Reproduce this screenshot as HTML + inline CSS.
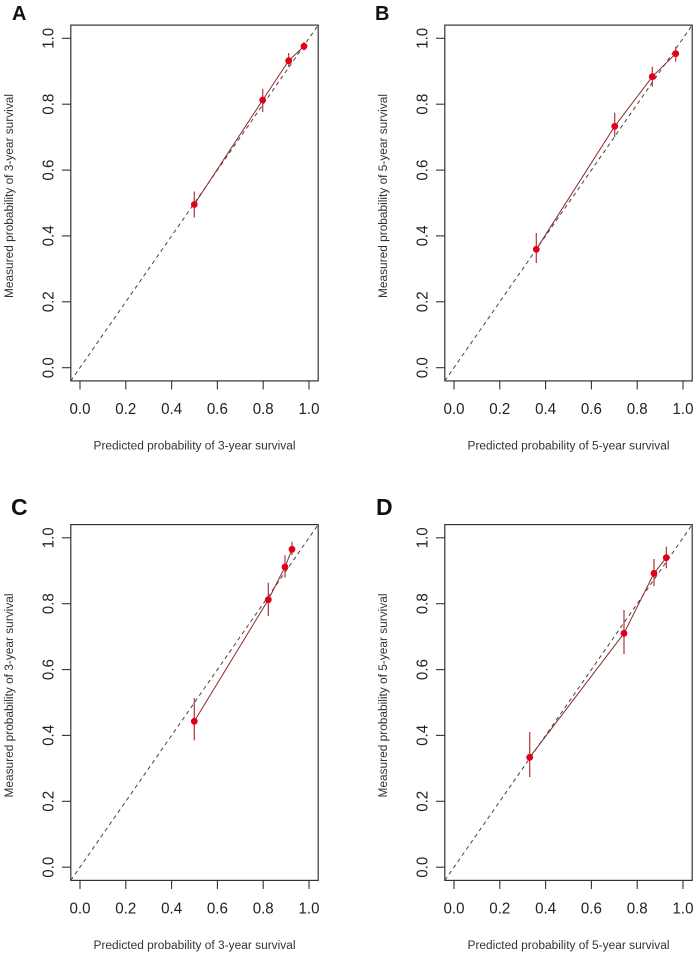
<!DOCTYPE html>
<html><head><meta charset="utf-8"><style>
html,body{margin:0;padding:0;background:#fff;}
svg{display:block;}
text{font-family:"Liberation Sans",Arial,sans-serif;fill:#222;}
.tk{font-size:16px;}
.ttl{font-size:11.5px;fill:#333;}
.lt{font-size:20px;font-weight:bold;fill:#111;}
.box{fill:none;stroke:#333;stroke-width:1.2;}
.tick{stroke:#333;stroke-width:1.1;}
.diag{stroke:#444;stroke-width:1;stroke-dasharray:4 3.5;fill:none;}
.cal{stroke:#8b2a2a;stroke-width:1;fill:none;}
.err{stroke:#b03535;stroke-width:1.2;}
.pt{fill:#e0001a;}
</style></head><body>
<svg width="696" height="956" viewBox="0 0 696 956" xmlns="http://www.w3.org/2000/svg">
<defs>
<g id="axes">
  <rect class="box" x="70.8" y="25.1" width="247.4" height="355.8"/>
  <line class="diag" x1="70.8" y1="380.9" x2="318.2" y2="25.1"/>
  <g class="tick">
    <line x1="80" y1="380.9" x2="80" y2="389.5"/>
    <line x1="125.8" y1="380.9" x2="125.8" y2="389.5"/>
    <line x1="171.6" y1="380.9" x2="171.6" y2="389.5"/>
    <line x1="217.4" y1="380.9" x2="217.4" y2="389.5"/>
    <line x1="263.2" y1="380.9" x2="263.2" y2="389.5"/>
    <line x1="309" y1="380.9" x2="309" y2="389.5"/>
    <line x1="70.8" y1="367.7" x2="62" y2="367.7"/>
    <line x1="70.8" y1="301.8" x2="62" y2="301.8"/>
    <line x1="70.8" y1="235.9" x2="62" y2="235.9"/>
    <line x1="70.8" y1="170.1" x2="62" y2="170.1"/>
    <line x1="70.8" y1="104.2" x2="62" y2="104.2"/>
    <line x1="70.8" y1="38.3" x2="62" y2="38.3"/>
  </g>
  <g class="tk" text-anchor="middle">
    <text x="80" y="414" textLength="21" lengthAdjust="spacingAndGlyphs">0.0</text>
    <text x="125.8" y="414" textLength="21" lengthAdjust="spacingAndGlyphs">0.2</text>
    <text x="171.6" y="414" textLength="21" lengthAdjust="spacingAndGlyphs">0.4</text>
    <text x="217.4" y="414" textLength="21" lengthAdjust="spacingAndGlyphs">0.6</text>
    <text x="263.2" y="414" textLength="21" lengthAdjust="spacingAndGlyphs">0.8</text>
    <text x="309" y="414" textLength="21" lengthAdjust="spacingAndGlyphs">1.0</text>
    <text transform="translate(53.5,367.7) rotate(-90)" textLength="21" lengthAdjust="spacingAndGlyphs">0.0</text>
    <text transform="translate(53.5,301.8) rotate(-90)" textLength="21" lengthAdjust="spacingAndGlyphs">0.2</text>
    <text transform="translate(53.5,235.9) rotate(-90)" textLength="21" lengthAdjust="spacingAndGlyphs">0.4</text>
    <text transform="translate(53.5,170.1) rotate(-90)" textLength="21" lengthAdjust="spacingAndGlyphs">0.6</text>
    <text transform="translate(53.5,104.2) rotate(-90)" textLength="21" lengthAdjust="spacingAndGlyphs">0.8</text>
    <text transform="translate(53.5,38.3) rotate(-90)" textLength="21" lengthAdjust="spacingAndGlyphs">1.0</text>
  </g>
</g>
</defs>

<!-- Panel A -->
<g>
  <use href="#axes"/>
  <text class="ttl" x="194.5" y="449.5" text-anchor="middle" textLength="202" lengthAdjust="spacingAndGlyphs">Predicted probability of 3-year survival</text>
  <text class="ttl" transform="translate(13,196) rotate(-90)" text-anchor="middle" textLength="204" lengthAdjust="spacingAndGlyphs">Measured probability of 3-year survival</text>
  <polyline class="cal" points="194.3,204.5 262.7,100 288.7,60.7 304,46.3"/>
  <line class="err" x1="194.3" y1="191.5" x2="194.3" y2="217.5"/>
  <line class="err" x1="262.7" y1="89" x2="262.7" y2="112"/>
  <line class="err" x1="288.7" y1="53" x2="288.7" y2="67"/>
  <line class="err" x1="304" y1="42" x2="304" y2="50.5"/>
  <circle class="pt" cx="194.3" cy="204.5" r="3.4"/>
  <circle class="pt" cx="262.7" cy="100" r="3.4"/>
  <circle class="pt" cx="288.7" cy="60.7" r="3.4"/>
  <circle class="pt" cx="304" cy="46.3" r="3.4"/>
  <text class="lt" x="12" y="20">A</text>
</g>

<!-- Panel B -->
<g transform="translate(374,0)">
  <use href="#axes"/>
  <text class="ttl" x="194.5" y="449.5" text-anchor="middle" textLength="202" lengthAdjust="spacingAndGlyphs">Predicted probability of 5-year survival</text>
  <text class="ttl" transform="translate(13,196) rotate(-90)" text-anchor="middle" textLength="204" lengthAdjust="spacingAndGlyphs">Measured probability of 5-year survival</text>
  <polyline class="cal" points="162.3,249.3 240.7,126.3 278.3,76.7 301.7,53.7"/>
  <line class="err" x1="162.3" y1="233" x2="162.3" y2="263"/>
  <line class="err" x1="240.7" y1="112.7" x2="240.7" y2="137"/>
  <line class="err" x1="278.3" y1="66.7" x2="278.3" y2="86.7"/>
  <line class="err" x1="301.7" y1="46.7" x2="301.7" y2="61.7"/>
  <circle class="pt" cx="162.3" cy="249.3" r="3.4"/>
  <circle class="pt" cx="240.7" cy="126.3" r="3.4"/>
  <circle class="pt" cx="278.3" cy="76.7" r="3.4"/>
  <circle class="pt" cx="301.7" cy="53.7" r="3.4"/>
  <text class="lt" x="1" y="20">B</text>
</g>

<!-- Panel C -->
<g transform="translate(0,499.5)">
  <use href="#axes"/>
  <text class="ttl" x="194.5" y="449.5" text-anchor="middle" textLength="202" lengthAdjust="spacingAndGlyphs">Predicted probability of 3-year survival</text>
  <text class="ttl" transform="translate(13,196) rotate(-90)" text-anchor="middle" textLength="204" lengthAdjust="spacingAndGlyphs">Measured probability of 3-year survival</text>
  <polyline class="cal" points="194.3,221.8 268.3,100.2 285,67.5 292,49.8"/>
  <line class="err" x1="194.3" y1="198.5" x2="194.3" y2="240.8"/>
  <line class="err" x1="268.3" y1="83.2" x2="268.3" y2="116.5"/>
  <line class="err" x1="285" y1="55.8" x2="285" y2="78.2"/>
  <line class="err" x1="292" y1="42.2" x2="292" y2="55.5"/>
  <circle class="pt" cx="194.3" cy="221.8" r="3.4"/>
  <circle class="pt" cx="268.3" cy="100.2" r="3.4"/>
  <circle class="pt" cx="285" cy="67.5" r="3.4"/>
  <circle class="pt" cx="292" cy="49.8" r="3.4"/>
  <text class="lt" x="11" y="15.5" style="font-size:23px">C</text>
</g>

<!-- Panel D -->
<g transform="translate(374,499.5)">
  <use href="#axes"/>
  <text class="ttl" x="194.5" y="449.5" text-anchor="middle" textLength="202" lengthAdjust="spacingAndGlyphs">Predicted probability of 5-year survival</text>
  <text class="ttl" transform="translate(13,196) rotate(-90)" text-anchor="middle" textLength="204" lengthAdjust="spacingAndGlyphs">Measured probability of 5-year survival</text>
  <polyline class="cal" points="155.7,257.8 250,133.8 280,73.8 292.3,58.2"/>
  <line class="err" x1="155.7" y1="232.5" x2="155.7" y2="277.5"/>
  <line class="err" x1="250" y1="110.5" x2="250" y2="154.5"/>
  <line class="err" x1="280" y1="59.5" x2="280" y2="86.5"/>
  <line class="err" x1="292.3" y1="47.2" x2="292.3" y2="68.8"/>
  <circle class="pt" cx="155.7" cy="257.8" r="3.4"/>
  <circle class="pt" cx="250" cy="133.8" r="3.4"/>
  <circle class="pt" cx="280" cy="73.8" r="3.4"/>
  <circle class="pt" cx="292.3" cy="58.2" r="3.4"/>
  <text class="lt" x="2" y="15.5" style="font-size:23px">D</text>
</g>
</svg>
</body></html>
